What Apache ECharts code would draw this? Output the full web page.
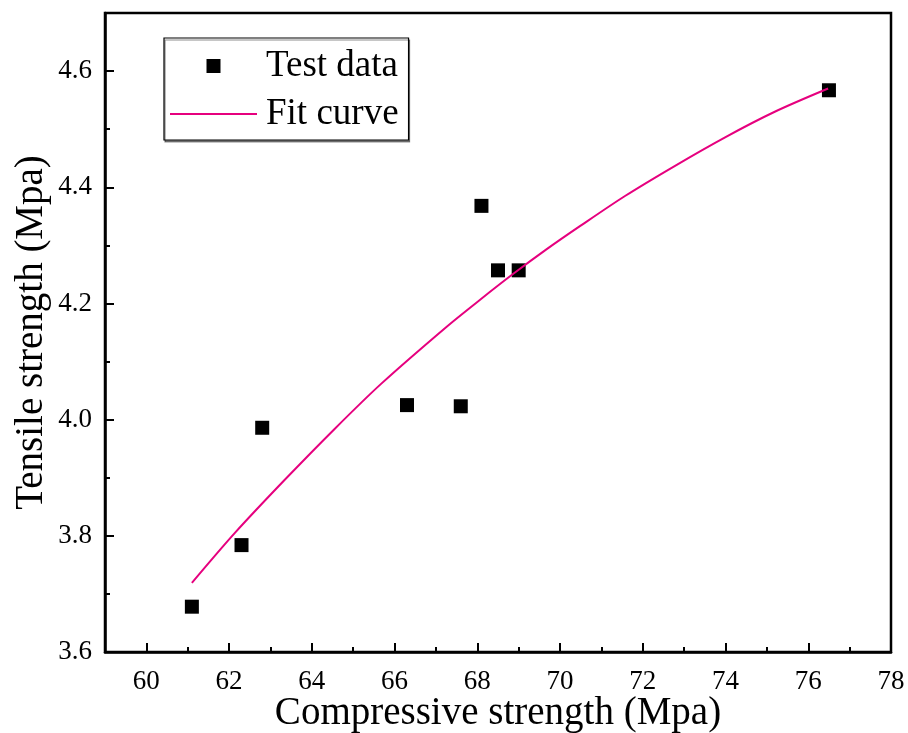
<!DOCTYPE html>
<html>
<head>
<meta charset="utf-8">
<script src="https://cdn.jsdelivr.net/npm/echarts@6/dist/echarts.min.js"></script>
<style>
  html, body { margin: 0; padding: 0; background: #fff; }
  #chart { width: 908px; height: 733px; }
</style>
</head>
<body>
<div id="chart"></div>
<script>
// Measured specimens
const compressive = [61.1, 62.3, 62.8, 66.3, 67.6, 68.1, 68.5, 69.0, 76.5];
const tensile = [3.678, 3.784, 3.986, 4.025, 4.023, 4.368, 4.257, 4.257, 4.567];

// Fitted relation, sampled along its length
const fitX = [61.10, 62.14, 63.34, 64.55, 65.68, 67.26, 68.06, 68.87, 69.67, 70.48, 71.57, 72.78, 73.99, 75.19, 76.48];
const fitY = [3.719, 3.805, 3.896, 3.984, 4.062, 4.160, 4.206, 4.251, 4.293, 4.333, 4.385, 4.437, 4.486, 4.530, 4.570];

// Axis ticks
const xMajorTicks = [60, 62, 64, 66, 68, 70, 72, 74, 76, 78];
const xMinorTicks = [61, 63, 65, 67, 69, 71, 73, 75, 77];
const yMajorTicks = [3.6, 3.8, 4.0, 4.2, 4.4, 4.6];
const yMinorTicks = [3.7, 3.9, 4.1, 4.3, 4.5];

const FONT = "'Liberation Serif', 'Times New Roman', serif";
const FIT_COLOR = '#E6007E';
const gridRect = { left: 105, right: 17, top: 13, bottom: 81 };

// Legend glyphs: a square marker and a short 2px stroke
const SQUARE_ICON = 'path://M0,0H10V10H0Z';
const STROKE_ICON = 'path://M0,0H87V2H0Z';

const chart = echarts.init(document.getElementById('chart'), null, { renderer: 'canvas' });

chart.setOption({
  backgroundColor: '#fff',
  animation: false,
  grid: [
    Object.assign({ show: true, borderColor: '#000', borderWidth: 2.5, containLabel: false, outerBoundsMode: 'none' }, gridRect),
    Object.assign({ show: false, containLabel: false, outerBoundsMode: 'none' }, gridRect)
  ],
  legend: {
    left: 164,
    top: 38,
    orient: 'vertical',
    padding: [8, 10, 6, 6],
    itemGap: 8,
    itemWidth: 87,
    itemHeight: 14,
    symbolKeepAspect: true,
    borderColor: '#000',
    borderWidth: 1.2,
    backgroundColor: '#fff',
    shadowColor: 'rgba(0,0,0,0.45)',
    shadowOffsetX: 1,
    shadowOffsetY: 2,
    textStyle: { fontFamily: FONT, fontSize: 37, color: '#000', lineHeight: 40, padding: [0, 0, 0, 4] },
    data: [
      { name: 'Test data', icon: SQUARE_ICON },
      { name: 'Fit curve', icon: STROKE_ICON }
    ]
  },
  xAxis: [
    {
      type: 'value', gridIndex: 0, min: 59, max: 78,
      name: 'Compressive strength (Mpa)', nameLocation: 'middle', nameGap: 42, nameMoveOverlap: false,
      nameTextStyle: { fontFamily: FONT, fontSize: 39, color: '#000' },
      axisLine: { show: true, lineStyle: { color: '#000', width: 2.5 } },
      axisTick: { show: true, inside: true, length: 9, lineStyle: { color: '#000', width: 2 }, customValues: xMajorTicks },
      axisLabel: { show: true, margin: 16, fontFamily: FONT, fontSize: 27, color: '#000', customValues: xMajorTicks },
      splitLine: { show: false }
    },
    {
      type: 'value', gridIndex: 1, min: 59, max: 78,
      axisLine: { show: false },
      axisTick: { show: true, inside: true, length: 5, lineStyle: { color: '#000', width: 2 }, customValues: xMinorTicks },
      axisLabel: { show: false },
      splitLine: { show: false }
    }
  ],
  yAxis: [
    {
      type: 'value', gridIndex: 0, min: 3.6, max: 4.7,
      name: 'Tensile strength (Mpa)', nameLocation: 'middle', nameGap: 54, nameMoveOverlap: false,
      nameTextStyle: { fontFamily: FONT, fontSize: 39, color: '#000' },
      axisLine: { show: true, lineStyle: { color: '#000', width: 2.5 } },
      axisTick: { show: true, inside: true, length: 9, lineStyle: { color: '#000', width: 2 }, customValues: yMajorTicks },
      axisLabel: { show: true, margin: 13, fontFamily: FONT, fontSize: 27, color: '#000', customValues: yMajorTicks,
        formatter: v => Number(v).toFixed(1) },
      splitLine: { show: false }
    },
    {
      type: 'value', gridIndex: 1, min: 3.6, max: 4.7,
      axisLine: { show: false },
      axisTick: { show: true, inside: true, length: 5, lineStyle: { color: '#000', width: 2 }, customValues: yMinorTicks },
      axisLabel: { show: false },
      splitLine: { show: false }
    }
  ],
  series: [
    {
      name: 'Fit curve', type: 'line', xAxisIndex: 0, yAxisIndex: 0,
      data: fitX.map((x, i) => [x, fitY[i]]),
      smooth: 0.3, symbol: 'none',
      lineStyle: { color: FIT_COLOR, width: 2 },
      itemStyle: { color: FIT_COLOR },
      z: 3
    },
    {
      name: 'Test data', type: 'scatter', xAxisIndex: 0, yAxisIndex: 0,
      data: compressive.map((x, i) => [x, tensile[i]]),
      symbol: 'rect', symbolSize: 14,
      itemStyle: { color: '#000', opacity: 1 },
      z: 2
    }
  ]
});
</script>
</body>
</html>
